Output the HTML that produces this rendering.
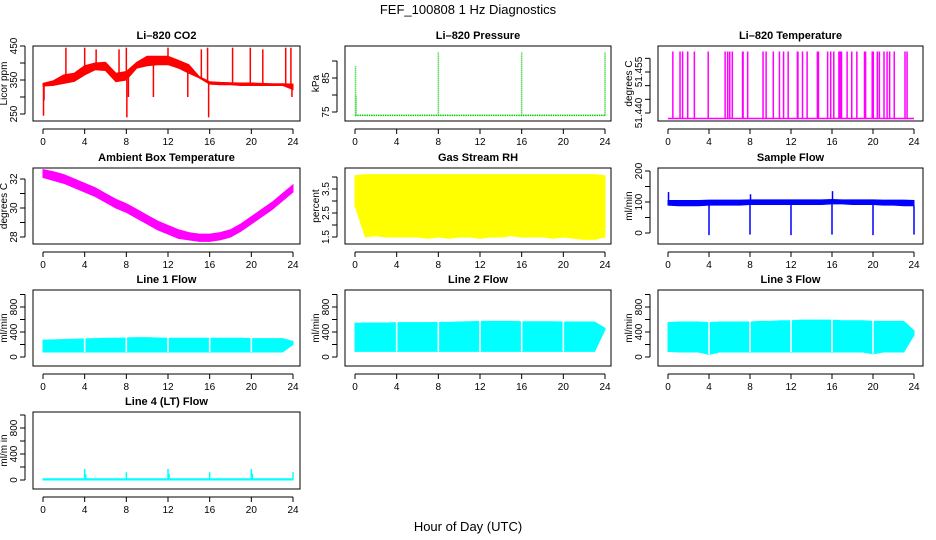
<!DOCTYPE html>
<html><head><meta charset="utf-8"><style>
html,body{margin:0;padding:0;background:#fff}
svg{display:block;font-family:"Liberation Sans",Arial,sans-serif}
</style></head><body>
<svg id="fig" width="936" height="540" viewBox="0 0 936 540" xmlns="http://www.w3.org/2000/svg">
<rect width="936" height="540" fill="#fff"/>
<text x="468" y="14" font-size="13" text-anchor="middle">FEF_100808  1 Hz Diagnostics</text>
<text x="468" y="531" font-size="13" text-anchor="middle">Hour of Day (UTC)</text>
</svg>
<script>
// ---------- data ----------
const hourTicks = [0,4,8,12,16,20,24];
const hrs = [0,1,2,3,4,5,6,7,8,9,10,11,12,13,14,15,16,17,18,19,20,21,22,23,24];

const co2Hi = [340,348,365,370,392,400,402,370,375,402,420,420,420,408,395,360,345,343,342,341,341,340,339,339,338];
const co2Lo = [332,334,340,346,365,380,378,345,350,385,392,395,395,385,370,356,338,336,336,334,334,334,334,334,322];
const co2SpikeT = [0.05,0.1,2.2,4.0,5.1,7.3,8.0,8.05,8.2,10.6,12.0,13.9,15.2,15.8,15.9,18.2,19.9,21.1,23.3,23.8,23.9];
const co2SpikeV = [245,290,445,445,440,440,445,240,300,300,445,300,440,445,240,445,445,440,445,445,300];

const presBase = [74,74,74,74,74,74,74,74,74,74,74,74,74,74,74,74,74,74,74,74,74,74,74,74,74];
const presSpikeT = [0.05,0.1,8.0,16.0,24.0];
const presSpikeV = [88.5,80,92.5,92.5,92.5];

const tempBase = 51.438;
const tempTop = 51.4625;
const tempOnStart = [0.4,1.1,1.35,1.85,2.5,3.85,5.5,5.75,5.95,6.2,7.2,7.7,9.2,9.5,10.2,10.8,11.2,11.65,12.55,13.05,13.5,14.5,15.5,15.8,16.1,16.6,17.4,17.85,18.35,19.1,19.85,20.35,20.55,21.0,21.3,21.55,22.0,23.05,23.25];
const tempOnEnd   = [0.45,1.15,1.45,1.9,2.55,3.95,5.55,5.85,6.0,6.25,7.4,7.75,9.3,9.55,10.25,10.85,11.35,11.75,12.75,13.15,13.55,14.75,15.55,15.85,16.15,17.0,17.45,18.0,18.5,19.35,20.1,20.4,20.6,21.05,21.35,21.6,22.05,23.1,23.3];

const ambHi = [32.65,32.5,32.3,32.0,31.7,31.4,31.0,30.6,30.3,29.9,29.5,29.1,28.8,28.5,28.3,28.2,28.2,28.3,28.5,28.9,29.4,29.9,30.4,31.0,31.6];
const ambLo = [32.1,31.9,31.7,31.4,31.1,30.8,30.4,30.0,29.7,29.3,28.9,28.5,28.2,27.9,27.8,27.7,27.7,27.8,28.0,28.4,28.9,29.4,29.9,30.5,31.1];

const rhHi = [4.05,4.1,4.1,4.1,4.1,4.1,4.1,4.1,4.1,4.1,4.1,4.1,4.1,4.1,4.1,4.1,4.1,4.1,4.1,4.1,4.1,4.1,4.1,4.1,4.05];
const rhLo = [2.8,1.5,1.55,1.5,1.5,1.5,1.5,1.45,1.5,1.45,1.5,1.5,1.45,1.5,1.5,1.55,1.5,1.5,1.5,1.45,1.5,1.45,1.4,1.4,1.5];

const sfHi = [105,105,105,105,106,106,106,106,107,107,107,107,107,107,107,107,108,107,107,107,107,106,106,106,105];
const sfLo = [90,88,88,88,90,90,90,90,92,92,92,92,92,92,92,92,94,94,92,92,92,90,90,88,88];
const sfSpikeT = [0.05,4.0,8.0,8.05,12.0,16.0,16.05,20.0,24.0];
const sfSpikeV = [132,-7,-5,125,-7,-5,135,-7,-5];

const l1Hi = [270,275,280,285,290,295,300,300,305,310,310,305,300,300,300,300,300,300,300,300,295,295,295,295,250];
const l1Lo = [80,80,80,80,80,80,80,80,80,80,80,80,80,80,80,80,80,80,80,80,80,80,80,80,200];
const l2Hi = [540,545,545,545,550,550,550,550,555,555,560,565,570,570,570,570,565,565,565,565,560,560,560,560,460];
const l2Lo = [90,90,90,90,90,90,90,90,90,90,90,90,90,90,90,90,90,90,90,90,90,90,90,90,440];
const l3Hi = [550,560,560,560,550,560,560,560,560,570,570,580,580,590,590,590,590,580,580,580,570,570,570,570,420];
const l3Lo = [90,80,80,80,40,80,80,80,80,80,80,80,80,80,80,80,80,80,80,80,50,80,80,80,350];
const flowGapT = [4,8,12,16,20];

const l4Hi = [20,20,20,20,20,20,20,20,20,20,20,20,20,20,20,20,20,20,20,20,20,20,20,20,20];
const l4Lo = [0,0,0,0,0,0,0,0,0,0,0,0,0,0,0,0,0,0,0,0,0,0,0,0,0];
const l4SpikeT = [4.0,4.1,8.0,12.0,12.1,16.0,20.0,20.1,24.0];
const l4SpikeV = [170,90,120,170,100,120,170,100,120];

// ---------- layout ----------
const NS = "http://www.w3.org/2000/svg";
const svg = document.getElementById('fig');
const cols = [{L:33,R:300,x0:43,x24:293},{L:345,R:611,x0:355,x24:605},{L:658,R:923,x0:668,x24:914}];
const rows = [{T:46,B:121},{T:168,B:244},{T:290,B:366},{T:412,B:489}];

function mk(tag, attrs, parent){
  const e = document.createElementNS(NS, tag);
  for (const k in attrs) e.setAttribute(k, attrs[k]);
  (parent||svg).appendChild(e);
  return e;
}

function panel(p){
  const c = cols[p.col], r = rows[p.row];
  const g = mk('g', {});
  
  
  const xs = t => c.x0 + (c.x24 - c.x0) * t / 24;
  const ys = v => p.py1 + (p.py2 - p.py1) * (v - p.v1) / (p.v2 - p.v1);
  const clipId = 'clip-' + p.name;
  const cp = mk('clipPath', {id: clipId}, g);
  mk('rect', {x:c.L, y:r.T, width:c.R-c.L, height:r.B-r.T}, cp);
  const dg = mk('g', {'clip-path':'url(#'+clipId+')'}, g);
  
  
  p.draw(dg, xs, ys);
  const box = mk('rect', {x:c.L, y:r.T, width:c.R-c.L, height:r.B-r.T, fill:'none', stroke:'#000', 'stroke-width':1}, g);
  
  
  const tt = mk('text', {x:(c.L+c.R)/2, y:r.T-7, 'font-size':11, 'font-weight':'bold', 'text-anchor':'middle'}, g);
  tt.textContent = p.title;
  
  
  const xa = mk('g', {}, g);
  
  
  mk('line', {x1:xs(0), x2:xs(24), y1:r.B+8, y2:r.B+8, stroke:'#000'}, xa);
  hourTicks.forEach(h => {
    mk('line', {x1:xs(h), x2:xs(h), y1:r.B+8, y2:r.B+13, stroke:'#000'}, xa);
    const lb = mk('text', {x:xs(h), y:r.B+24, 'font-size':10, 'text-anchor':'middle'}, xa);
    lb.textContent = h;
    
    
  });
  const ya = mk('g', {}, g);
  
  
  const yt = p.yTicks;
  mk('line', {x1:c.L-8, x2:c.L-8, y1:ys(yt[0]), y2:ys(yt[yt.length-1]), stroke:'#000'}, ya);
  yt.forEach(v => {
    mk('line', {x1:c.L-8, x2:c.L-13, y1:ys(v), y2:ys(v), stroke:'#000'}, ya);
  });
  p.yLabels.forEach((s, i) => {
    const v = p.yLabelVals[i];
    const lx = c.L - 16, ly = ys(v);
    const lb = mk('text', {x:lx, y:ly, 'font-size':10, 'text-anchor':'middle', transform:'rotate(-90 '+lx+' '+ly+')'}, ya);
    lb.textContent = s;
    
    
  });
  const ax = c.L - 26, ay = (r.T + r.B) / 2;
  const yl = mk('text', {x:ax, y:ay, 'font-size':10, 'text-anchor':'middle', transform:'rotate(-90 '+ax+' '+ay+')'}, g);
  yl.textContent = p.ylab;
  
  
}

function band(g, xs, ys, t, hi, lo, color, name){
  let pts = [];
  for (let i=0;i<t.length;i++) pts.push(xs(t[i])+','+ys(hi[i]));
  for (let i=t.length-1;i>=0;i--) pts.push(xs(t[i])+','+ys(lo[i]));
  const e = mk('polygon', {points:pts.join(' '), fill:color, stroke:color, 'stroke-width':1}, g);
  
  
}
function spikes(g, xs, ys, t, v, base, color, name, dash){
  for (let i=0;i<t.length;i++){
    const idx = Math.min(Math.round(t[i]), base.length-1);
    const a = {x1:xs(t[i]), x2:xs(t[i]), y1:ys(base[idx]), y2:ys(v[i]), stroke:color, 'stroke-width':1.5};
    if (dash) a['stroke-dasharray'] = dash;
    const e = mk('line', a, g);
    
    
  }
}
function gaps(g, xs, ys, t, hi, lo, name){
  for (let i=0;i<t.length;i++){
    const e = mk('rect', {x:xs(t[i])-0.8, y:ys(hi[Math.round(t[i])]+20), width:1.6, height:ys(lo[Math.round(t[i])]) - ys(hi[Math.round(t[i])]+20), fill:'#fff'}, g);
    
    
  }
}

const flowTicks = [0,200,400,600,800,1000];

panel({name:'co2-panel', title:'Li–820 CO2', ylab:'Licor ppm', col:0, row:0,
  v1:250, py1:114, v2:450, py2:46,
  yTicks:[250,300,350,400,450], yLabels:['250','350','450'], yLabelVals:[250,350,450],
  draw:(g,xs,ys)=>{ band(g,xs,ys,hrs,co2Hi,co2Lo,'#ff0000','co2-band');
    const mid = co2Hi.map((h,i)=>(h+co2Lo[i])/2);
    spikes(g,xs,ys,co2SpikeT,co2SpikeV,mid,'#ff0000','co2-spike'); }});

panel({name:'pressure-panel', title:'Li–820 Pressure', ylab:'kPa', col:1, row:0,
  v1:75, py1:112, v2:85, py2:78,
  yTicks:[75,80,85,90], yLabels:['75','85'], yLabelVals:[75,85],
  draw:(g,xs,ys)=>{
    let pts = hrs.map((t,i)=>xs(t)+','+ys(presBase[i])).join(' ');
    const e = mk('polyline', {points:pts, fill:'none', stroke:'#00cc00', 'stroke-width':1.5, 'stroke-dasharray':'1.5 0.8'}, g);
    
    
    spikes(g,xs,ys,presSpikeT,presSpikeV,presBase,'#00cc00','pressure-spike','1 1'); }});

panel({name:'li820-temperature-panel', title:'Li–820 Temperature', ylab:'degrees C', col:2, row:0,
  v1:51.440, py1:113, v2:51.455, py2:72,
  yTicks:[51.440,51.445,51.450,51.455,51.460], yLabels:['51.440','51.455'], yLabelVals:[51.440,51.455],
  draw:(g,xs,ys)=>{
    const e = mk('line', {x1:xs(0), x2:xs(24), y1:ys(tempBase), y2:ys(tempBase), stroke:'#ff00ff', 'stroke-width':1.5}, g);
    
    
    for (let i=0;i<tempOnStart.length;i++){
      const x1 = xs(tempOnStart[i]), x2 = xs(tempOnEnd[i]);
      const r = mk('rect', {x:x1, y:ys(tempTop), width:Math.max(1.5,x2-x1), height:ys(tempBase)-ys(tempTop), fill:'#ff00ff'}, g);
      
      
    } }});

panel({name:'ambient-box-temperature-panel', title:'Ambient Box Temperature', ylab:'degrees C', col:0, row:1,
  v1:28, py1:237, v2:32, py2:179,
  yTicks:[28,29,30,31,32], yLabels:['28','30','32'], yLabelVals:[28,30,32],
  draw:(g,xs,ys)=>{ band(g,xs,ys,hrs,ambHi,ambLo,'#ff00ff','ambient-band'); }});

panel({name:'gas-stream-rh-panel', title:'Gas Stream RH', ylab:'percent', col:1, row:1,
  v1:1.5, py1:237, v2:3.5, py2:189,
  yTicks:[1.5,2,2.5,3,3.5,4], yLabels:['1.5','2.5','3.5'], yLabelVals:[1.5,2.5,3.5],
  draw:(g,xs,ys)=>{ band(g,xs,ys,hrs,rhHi,rhLo,'#ffff00','rh-band'); }});

panel({name:'sample-flow-panel', title:'Sample Flow', ylab:'ml/min', col:2, row:1,
  v1:0, py1:233, v2:100, py2:202,
  yTicks:[0,50,100,150,200], yLabels:['0','100','200'], yLabelVals:[0,100,200],
  draw:(g,xs,ys)=>{ band(g,xs,ys,hrs,sfHi,sfLo,'#0000ff','sample-flow-band');
    spikes(g,xs,ys,sfSpikeT,sfSpikeV,sfLo,'#0000ff','sample-flow-spike'); }});

const flowPanels = [
  ['line1-flow-panel','Line 1 Flow',0,l1Hi,l1Lo],
  ['line2-flow-panel','Line 2 Flow',1,l2Hi,l2Lo],
  ['line3-flow-panel','Line 3 Flow',2,l3Hi,l3Lo]];
flowPanels.forEach(f=>{
  panel({name:f[0], title:f[1], ylab:'ml/min', col:f[2], row:2,
    v1:0, py1:357, v2:800, py2:307,
    yTicks:flowTicks, yLabels:['0','400','800'], yLabelVals:[0,400,800],
    draw:(g,xs,ys)=>{ band(g,xs,ys,hrs,f[3],f[4],'#00ffff',f[0]+'-band');
      gaps(g,xs,ys,flowGapT,f[3],f[4],f[0]+'-gap'); }});
});

panel({name:'line4-flow-panel', title:'Line 4 (LT) Flow', ylab:'ml/m in', col:0, row:3,
  v1:0, py1:480, v2:800, py2:428,
  yTicks:flowTicks, yLabels:['0','400','800'], yLabelVals:[0,400,800],
  draw:(g,xs,ys)=>{ band(g,xs,ys,hrs,l4Hi,l4Lo,'#00ffff','line4-band');
    spikes(g,xs,ys,l4SpikeT,l4SpikeV,l4Hi,'#00ffff','line4-spike'); }});
</script>
</body></html>
